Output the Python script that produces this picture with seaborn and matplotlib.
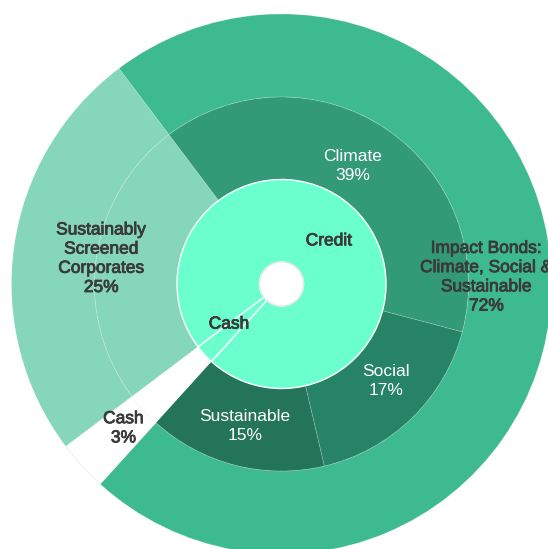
import numpy as np
import matplotlib
matplotlib.use("Agg")
import matplotlib.pyplot as plt
import matplotlib.patheffects as pe
import seaborn as sns

sns.set_theme(style="white")
plt.rcParams['font.family'] = ['Liberation Sans', 'DejaVu Sans']

# ---- data ----
inner_labels = ["Credit", "Cash"]
inner_values = [97, 3]

middle_labels = ["", "Climate\n39%", "Social\n17%", "Sustainable\n15%", ""]
middle_values = [25, 39.4, 17.2, 15.4, 3]

outer_labels = ["Sustainably\nScreened\nCorporates\n25%",
                "Impact Bonds:\nClimate, Social &\nSustainable\n72%",
                "Cash\n3%"]
outer_values = [25, 72, 3]

# ---- styles ----
c_inner = ["#6affcc", "#6affcc"]
c_middle = ["#85d6bb", "#339a78", "#278365", "#237458", "#ffffff"]
c_outer = ["#85d6bb", "#3dba8f", "#ffffff"]
dark = "#3a3a3a"

W, H = 548, 549
fig = plt.figure(figsize=(W / 100, H / 100), dpi=100)
ax = fig.add_axes([0, 0, 1, 1])

cx, cy = 281.5, H - 284
r_hole, r_in, r_mid, r_out = 22, 104.5, 187, 270
start = 217

outer_w, _ = ax.pie(outer_values, colors=c_outer, radius=r_out, center=(cx, cy),
                    startangle=start, counterclock=False, frame=True,
                    wedgeprops=dict(width=r_out - r_mid, edgecolor=(1, 1, 1, 0.2), linewidth=0.6))
outer_w[2].set_edgecolor("#ececec")
mid_w, _ = ax.pie(middle_values, colors=c_middle, radius=r_mid, center=(cx, cy),
                  startangle=start, counterclock=False, frame=True,
                  wedgeprops=dict(width=r_mid - r_in, edgecolor=(1, 1, 1, 0.2), linewidth=0.6))
in_w, _ = ax.pie(inner_values, colors=c_inner, radius=r_in, center=(cx, cy),
                 startangle=start, counterclock=False, frame=True,
                 wedgeprops=dict(width=r_in - r_hole, edgecolor="white", linewidth=1.0))
ax.add_patch(plt.Circle((cx, cy), r_hole, facecolor="white", edgecolor="#e6e6e6", linewidth=1.0, zorder=5))
ax.set_xlim(0, W)
ax.set_ylim(0, H)
ax.set_aspect("equal")
ax.axis("off")

fx = [pe.withStroke(linewidth=0.6, foreground=dark)]


def put(w, text, r, color, effects=None, dang=0.0):
    ang = np.deg2rad((w.theta1 + w.theta2) / 2 + dang)
    ax.text(cx + r * np.cos(ang), cy + r * np.sin(ang), text, ha="center", va="center",
            fontsize=12.5, color=color, linespacing=1.35, zorder=6, path_effects=effects,
            clip_on=False)


# inner labels
put(in_w[0], inner_labels[0], 64, dark, fx)
put(in_w[1], inner_labels[1], 66, dark, fx, dang=-5)
# middle labels
put(mid_w[1], middle_labels[1], 138, "white", None, dang=3)
put(mid_w[2], middle_labels[2], 143, "white", None, dang=3)
put(mid_w[3], middle_labels[3], 147, "white", None)
# outer labels
put(outer_w[0], outer_labels[0], 182, dark, fx)
put(outer_w[1], outer_labels[1], 205, dark, fx, dang=4.5)
put(outer_w[2], outer_labels[2], 214, dark, fx)

fig.savefig("out.png", dpi=100)
